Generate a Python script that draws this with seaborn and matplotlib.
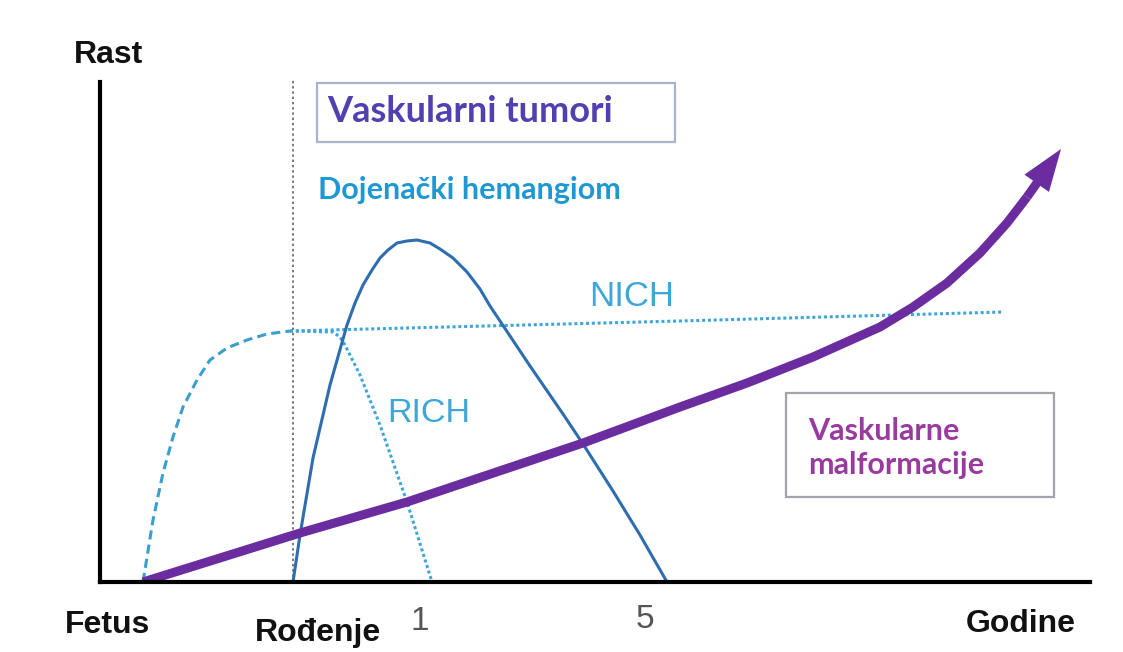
import numpy as np
import pandas as pd
import matplotlib.pyplot as plt
import seaborn as sns
from matplotlib.patches import Rectangle

## Curves (x: time, y: growth; arbitrary units)
fetal_x = [43, 53, 63, 73, 83, 97, 110, 127, 147, 167, 190]
fetal_y = [0, 62, 109, 145, 175, 202, 222, 234, 242, 248, 251]

nich_x = [190, 580, 903]
nich_y = [251, 261, 270]

rich_x = [190, 233, 240, 245, 260, 280, 307, 332]
rich_y = [251, 250, 245, 237, 207, 157, 80, 0]

ih_x = [193, 200, 213, 230, 247, 255, 263, 272, 280, 288, 297, 307, 317, 330, 340, 353,
        367, 380, 390, 400, 430, 463, 483, 513, 540, 567]
ih_y = [0, 47, 124, 197, 257, 279, 297, 312, 324, 332, 339, 341, 342, 339, 333, 324,
        310, 293, 276, 261, 216, 168, 138, 91, 47, 0]

vm_x = [43, 200, 307, 483, 580, 647, 713, 780, 813, 847, 880, 907, 927, 961]
vm_y = [0, 49, 80, 139, 175, 199, 225, 255, 275, 299, 329, 359, 385, 433]

birth_x = 193

light_blue = '#3fa6d8'
dash_blue = '#3a9fcb'
dark_blue = '#2e6db0'
purple = '#6b2ca0'

sns.set_style("white")
plt.rcParams['font.family'] = ['Liberation Sans', 'DejaVu Sans']

W, H = 1123, 652
fig = plt.figure(figsize=(W / 100, H / 100), dpi=100)
ax = fig.add_axes([100 / W, 70 / H, 990 / W, 500 / H])
ax.set_xlim(0, 990)
ax.set_ylim(0, 500)

def curve(xs, ys):
    return pd.DataFrame({'x': xs, 'y': ys})

sns.lineplot(data=curve(fetal_x, fetal_y), x='x', y='y', ax=ax, sort=False, estimator=None,
             color=dash_blue, lw=2.2, linestyle=(0, (3, 1.7)))
sns.lineplot(data=curve(nich_x, nich_y), x='x', y='y', ax=ax, sort=False, estimator=None,
             color=light_blue, lw=2.2, linestyle=(0, (1, 0.9)))
sns.lineplot(data=curve(rich_x, rich_y), x='x', y='y', ax=ax, sort=False, estimator=None,
             color=light_blue, lw=2.2, linestyle=(0, (1, 0.9)))
sns.lineplot(data=curve(ih_x, ih_y), x='x', y='y', ax=ax, sort=False, estimator=None,
             color=dark_blue, lw=2.2, solid_joinstyle='round')
sns.lineplot(data=curve(vm_x[:-1], vm_y[:-1]), x='x', y='y', ax=ax, sort=False, estimator=None,
             color=purple, lw=6.5, solid_capstyle='butt', solid_joinstyle='round')
ax.arrow(vm_x[-2], vm_y[-2], vm_x[-1] - vm_x[-2], vm_y[-1] - vm_y[-2], width=9,
         head_width=30, head_length=42, length_includes_head=True, color=purple, lw=0)

# birth marker
ax.plot([birth_x, birth_x], [0, 504], color='#777777', lw=1.4, linestyle=(0, (1.2, 1.5)),
        clip_on=False, zorder=0)

# axes
sns.despine(ax=ax)
for s in ['left', 'bottom']:
    ax.spines[s].set_linewidth(3)
    ax.spines[s].set_color('black')
ax.set_xticks([])
ax.set_yticks([])
ax.set_xlabel('')
ax.set_ylabel('')

def fx(x):
    return x / W

def fy(y):
    return 1 - y / H

# label boxes
fig.patches.append(Rectangle((fx(317), fy(142)), 358 / W, 59 / H, transform=fig.transFigure,
                             fc='white', ec='#aab2cf', lw=1.6, zorder=3))
fig.patches.append(Rectangle((fx(786), fy(497)), 268 / W, 104 / H, transform=fig.transFigure,
                             fc='white', ec='#a3a3aa', lw=1.6, zorder=3))

bold_font = ['Liberation Sans', 'DejaVu Sans']
fig.text(fx(108), fy(63), 'Rast', ha='center', va='baseline', fontsize=23, fontweight='bold',
         family=bold_font, color='#111111')
fig.text(fx(108), fy(633), 'Fetus', ha='center', va='baseline', fontsize=23, fontweight='bold',
         family=bold_font, color='#111111')
fig.text(fx(318), fy(641), 'Rođenje', ha='center', va='baseline', fontsize=23, fontweight='bold',
         family=bold_font, color='#111111')
fig.text(fx(1021), fy(632), 'Godine', ha='center', va='baseline', fontsize=23, fontweight='bold',
         family=bold_font, color='#111111')
fig.text(fx(420), fy(630), '1', ha='center', va='baseline', fontsize=24, color='#555555',
         family=bold_font)
fig.text(fx(645), fy(628), '5', ha='center', va='baseline', fontsize=24, color='#555555',
         family=bold_font)

calib = ['Lato', 'DejaVu Sans']
fig.text(fx(327), fy(112), 'Vaskularni tumori', ha='left', va='center', fontsize=26,
         fontweight='bold', color='#5140b2', family=calib, zorder=4)
fig.text(fx(318), fy(190), 'Dojenački hemangiom', ha='left', va='center', fontsize=22,
         fontweight='bold', color='#1e98d5', family=calib)
fig.text(fx(632), fy(297), 'NICH', ha='center', va='center', fontsize=25, color=light_blue)
fig.text(fx(429), fy(414), 'RICH', ha='center', va='center', fontsize=24.5, color=light_blue)
fig.text(fx(808), fy(448), 'Vaskularne\nmalformacije', ha='left', va='center', fontsize=22,
         fontweight='bold', color='#993a9e', family=calib, linespacing=1.25, zorder=4)

fig.savefig('out.png', dpi=100)
